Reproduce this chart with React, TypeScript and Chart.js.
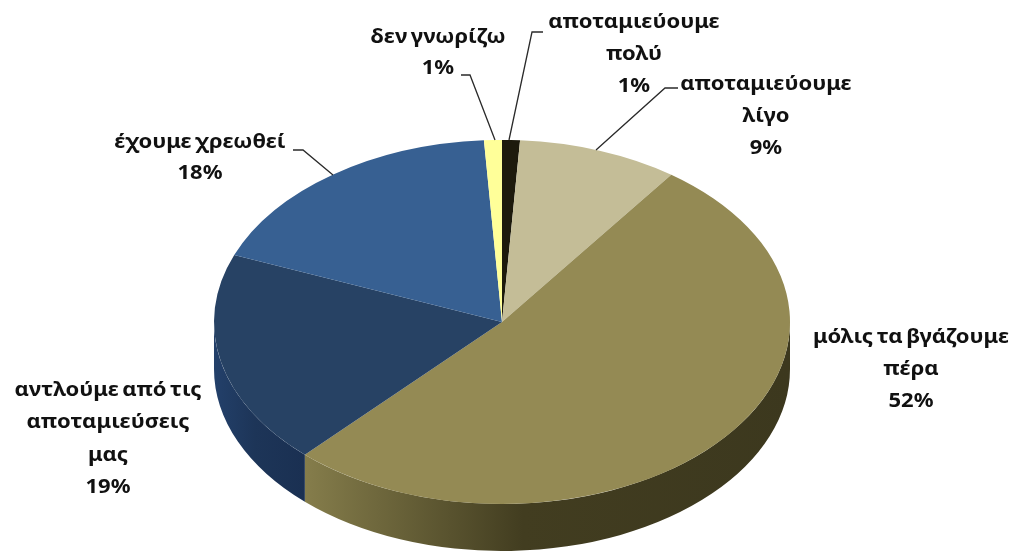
import { useEffect, useRef } from "react";
import { Chart, registerables } from "chart.js";

Chart.register(...registerables);

const categories = [
  "αποταμιεύουμε πολύ",
  "αποταμιεύουμε λίγο",
  "μόλις τα βγάζουμε πέρα",
  "αντλούμε από τις αποταμιεύσεις μας",
  "έχουμε χρεωθεί",
  "δεν γνωρίζω",
];
const shares = [1, 9, 52, 19, 18, 1];
const topColours = ["#1d1a0c", "#c4bd97", "#948a54", "#274264", "#376092", "#ffff99"];
// Wall shading along each slice's front rim, from its clockwise start to its end.
const sideStops = [
  ["#000000", "#000000", "#000000"],
  ["#8a8468", "#8a8468", "#8a8468"],
  ["#3c381e", "#423d20", "#857d4b"],
  ["#1a3052", "#1d3558", "#23406a"],
  ["#25456c", "#25456c", "#25456c"],
  ["#bbbb66", "#bbbb66", "#bbbb66"],
];
const labelLines = [
  ["αποταμιεύουμε", "πολύ", "1%"],
  ["αποταμιεύουμε", "λίγο", "9%"],
  ["μόλις τα βγάζουμε", "πέρα", "52%"],
  ["αντλούμε από τις", "αποταμιεύσεις", "μας", "19%"],
  ["έχουμε χρεωθεί", "18%"],
  ["δεν γνωρίζω", "1%"],
];
// Centre of the first text line of each label, in page pixels.
const labelAnchors = [
  [634, 22],
  [766, 84],
  [911, 337],
  [108, 390],
  [200, 142],
  [438, 37],
];
const labelLineGaps = [32, 32, 32, 32.5, 31, 31];
// Leader polylines from a label towards its slice rim, in page pixels.
const leaders = [
  [[543, 32], [532, 32], [509, 140]],
  [[678, 88], [665, 88], [596, 150]],
  null,
  null,
  [[293, 150], [303, 150], [333, 175]],
  [[461, 75], [470, 75], [495, 140]],
];

const X_STRETCH = 288 / 182;
const DEPTH = 47;
const TEXT_STRETCH = 1.1;

const pie3d = {
  id: "pie3d",
  beforeDatasetsDraw(chart: any) {
    const { ctx } = chart;
    const arcs = chart.getDatasetMeta(0).data;
    const cx = arcs[0].x;
    ctx.save();
    ctx.translate(cx, 0);
    ctx.scale(X_STRETCH, 1);
    ctx.translate(-cx, 0);
    arcs.forEach((arc: any, i: number) => {
      const r = arc.outerRadius;
      const from = Math.max(arc.startAngle, 0);
      const to = Math.min(arc.endAngle, Math.PI);
      if (to <= from) return;
      const grad = ctx.createLinearGradient(
        cx + r * Math.cos(from), 0, cx + r * Math.cos(to), 0
      );
      grad.addColorStop(0, sideStops[i][0]);
      grad.addColorStop(0.55, sideStops[i][1]);
      grad.addColorStop(1, sideStops[i][2]);
      ctx.beginPath();
      ctx.arc(cx, arc.y, r, from, to);
      ctx.lineTo(cx + r * Math.cos(to), arc.y + DEPTH + r * Math.sin(to));
      ctx.arc(cx, arc.y + DEPTH, r, to, from, true);
      ctx.closePath();
      ctx.fillStyle = grad;
      ctx.fill();
    });
  },
  afterDatasetsDraw(chart: any) {
    const { ctx } = chart;
    ctx.restore();
    ctx.save();
    ctx.strokeStyle = "#2a2a2a";
    ctx.lineWidth = 1.3;
    leaders.forEach((path) => {
      if (!path) return;
      ctx.beginPath();
      path.forEach(([x, y], k) => (k ? ctx.lineTo(x, y) : ctx.moveTo(x, y)));
      ctx.stroke();
    });
    ctx.fillStyle = "#111111";
    ctx.font = "700 20px 'Noto Sans'";
    (ctx as any).wordSpacing = "-2px";
    ctx.textAlign = "center";
    ctx.textBaseline = "middle";
    labelLines.forEach((lines, i) => {
      const [x, y] = labelAnchors[i];
      lines.forEach((line, k) => {
        ctx.save();
        ctx.translate(x, y + k * labelLineGaps[i]);
        ctx.scale(TEXT_STRETCH, 1);
        ctx.fillText(line, 0, 0);
        ctx.restore();
      });
    });
    ctx.restore();
  },
};

export default function App() {
  const ref = useRef<HTMLCanvasElement>(null);
  useEffect(() => {
    document.body.style.margin = "0";
    const chart = new Chart(ref.current!, {
      type: "pie",
      data: {
        labels: categories,
        datasets: [
          {
            data: shares,
            backgroundColor: topColours,
            borderWidth: 0,
            clip: false,
          } as any,
        ],
      },
      options: {
        animation: false,
        responsive: false,
        events: [],
        layout: { padding: { top: 140, bottom: 47, left: 0, right: 13 } },
        plugins: { legend: { display: false }, tooltip: { enabled: false } },
      },
      plugins: [pie3d],
    });
    return () => chart.destroy();
  }, []);
  return <canvas ref={ref} width={1017} height={551} style={{ display: "block" }} />;
}
